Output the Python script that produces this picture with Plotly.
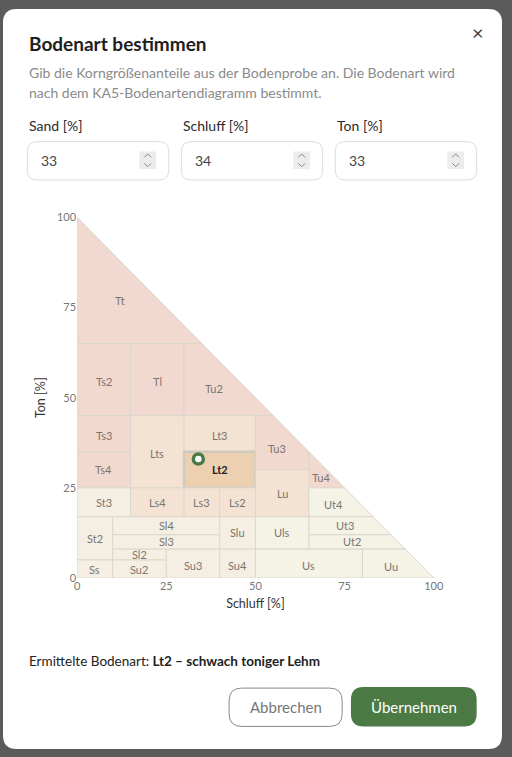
import plotly.graph_objects as go

W, H = 512, 757
# KA5 regions: name, polygon (Schluff %, Ton %), label position, group
regions = [
 ("Tt",  [(0,65),(35,65),(0,100)], (12,77), "T"),
 ("Ts2", [(0,45),(15,45),(15,65),(0,65)], (7.5,54.5), "T"),
 ("Tl",  [(15,45),(30,45),(30,65),(15,65)], (22.5,54.5), "T"),
 ("Tu2", [(30,45),(55,45),(35,65),(30,65)], (38.5,52.5), "T"),
 ("Ts3", [(0,35),(15,35),(15,45),(0,45)], (7.5,39.5), "T"),
 ("Ts4", [(0,25),(15,25),(15,35),(0,35)], (7.5,30), "T"),
 ("Lts", [(15,25),(30,25),(30,45),(15,45)], (22.5,34.5), "L"),
 ("Lt3", [(30,35),(50,35),(50,45),(30,45)], (40,39.5), "L"),
 ("Lt2", [(30,25),(50,25),(50,35),(30,35)], (40,30), "H"),
 ("Tu3", [(50,30),(65,30),(65,35),(55,45),(50,45)], (56,36), "T"),
 ("Tu4", [(65,25),(75,25),(65,35)], (68.5,28), "T"),
 ("Lu",  [(50,17),(65,17),(65,30),(50,30)], (57.5,23.5), "L"),
 ("St3", [(0,17),(15,17),(15,25),(0,25)], (7.5,21), "S"),
 ("Ls4", [(15,17),(30,17),(30,25),(15,25)], (22.5,21), "L"),
 ("Ls3", [(30,17),(40,17),(40,25),(30,25)], (35,21), "L"),
 ("Ls2", [(40,17),(50,17),(50,25),(40,25)], (45,21), "L"),
 ("Ut4", [(65,17),(83,17),(75,25),(65,25)], (72,20.5), "U"),
 ("St2", [(0,5),(10,5),(10,17),(0,17)], (5,11), "S"),
 ("Ss",  [(0,0),(10,0),(10,5),(0,5)], (5,2.5), "S"),
 ("Sl4", [(10,12),(40,12),(40,17),(10,17)], (25,14.5), "S"),
 ("Sl3", [(10,8),(40,8),(40,12),(10,12)], (25,10), "S"),
 ("Sl2", [(10,5),(25,5),(25,8),(10,8)], (17.5,6.5), "S"),
 ("Su2", [(10,0),(25,0),(25,5),(10,5)], (17.5,2.5), "S"),
 ("Su3", [(25,0),(40,0),(40,8),(25,8)], (32.5,3.5), "S"),
 ("Slu", [(40,8),(50,8),(50,17),(40,17)], (45,12.5), "S"),
 ("Su4", [(40,0),(50,0),(50,8),(40,8)], (45,3.5), "S"),
 ("Uls", [(50,8),(65,8),(65,17),(50,17)], (57.5,12.5), "U"),
 ("Ut3", [(65,12),(88,12),(83,17),(65,17)], (75,14.5), "U"),
 ("Ut2", [(65,8),(92,8),(88,12),(65,12)], (77,10), "U"),
 ("Us",  [(50,0),(80,0),(80,8),(50,8)], (65,3.5), "U"),
 ("Uu",  [(80,0),(100,0),(92,8),(80,8)], (88,3.3), "U"),
]
group_colors = {"T": "#f2d9cf", "L": "#f4e3d3", "S": "#f5efe3", "U": "#f5f2e6", "H": "#edd0b0"}
sample_schluff = [34]
sample_ton = [33]
ticks = [0, 25, 50, 75, 100]

def px(x): return x / W
def py(y): return 1 - y / H
def p(x, y): return f"{px(x):.5f},{py(y):.5f}"

def rrect(x0, y0, x1, y1, r):
    return (f"M{p(x0+r,y0)} L{p(x1-r,y0)} Q{p(x1,y0)} {p(x1,y0+r)} L{p(x1,y1-r)} "
            f"Q{p(x1,y1)} {p(x1-r,y1)} L{p(x0+r,y1)} Q{p(x0,y1)} {p(x0,y1-r)} "
            f"L{p(x0,y0+r)} Q{p(x0,y0)} {p(x0+r,y0)} Z")

fig = go.Figure()
for name, poly, (lx, ly), g in regions:
    xs = [q[0] for q in poly] + [poly[0][0]]
    ys = [q[1] for q in poly] + [poly[0][1]]
    hl = g == "H"
    fig.add_trace(go.Scatter(x=xs, y=ys, fill="toself", fillcolor=group_colors[g],
                             mode="lines", line=dict(color="#cfc9c0" if hl else "#dcd6cd", width=2.5 if hl else 1),
                             hoverinfo="skip", showlegend=False))
for name, poly, (lx, ly), g in regions:
    hl = g == "H"
    fig.add_annotation(x=lx, y=ly, text=f"<b>{name}</b>" if hl else name, showarrow=False,
                       font=dict(family="Lato", size=11, color="#222" if hl else "#7a7570"))
fig.add_trace(go.Scatter(x=sample_schluff, y=sample_ton, mode="markers",
                         marker=dict(size=10, color="white", line=dict(color="#4a7a45", width=3.5)),
                         showlegend=False, hoverinfo="skip"))

shapes = [dict(type="path", xref="paper", yref="paper", path=rrect(0, 2, 512, 755, 14),
               fillcolor="white", line=dict(width=0), layer="below")]
inputs = [("Sand [%]", 25, 170, "33"), ("Schluff [%]", 183, 328, "34"), ("Ton [%]", 341, 486, "33")]
ann = []
for lab, x0, x1, val in inputs:
    shapes.append(dict(type="path", xref="paper", yref="paper", path=rrect(x0, 137, x1, 176, 10),
                       fillcolor="white", line=dict(color="#dddddd", width=1)))
    shapes.append(dict(type="rect", xref="paper", yref="paper", x0=px(x1-30), x1=px(x1-13),
                       y0=py(165), y1=py(147), fillcolor="#ececec", line=dict(width=0)))
    cx = x1 - 21.5
    shapes.append(dict(type="path", xref="paper", yref="paper",
                       path=f"M{p(cx-3.5,153)} L{p(cx,149.5)} L{p(cx+3.5,153)}",
                       line=dict(color="#888", width=1)))
    shapes.append(dict(type="path", xref="paper", yref="paper",
                       path=f"M{p(cx-3.5,159)} L{p(cx,162.5)} L{p(cx+3.5,159)}",
                       line=dict(color="#888", width=1)))
    ann.append(dict(x=px(x0), y=py(121), text=lab, xanchor="left", font=dict(size=14, color="#2a2a2a")))
    ann.append(dict(x=px(x0+12), y=py(156), text=val, xanchor="left", font=dict(size=14, color="#444")))
shapes.append(dict(type="path", xref="paper", yref="paper", path=rrect(232, 693, 348, 732, 13),
                   fillcolor="white", line=dict(color="#8a8a8a", width=1)))
shapes.append(dict(type="path", xref="paper", yref="paper", path=rrect(357, 692, 486, 732, 13),
                   fillcolor="#4b7a44", line=dict(width=0)))
ann += [
    dict(x=px(25), y=py(37), text="<b>Bodenart bestimmen</b>", xanchor="left", font=dict(size=19, color="#1e1e1e")),
    dict(x=px(487), y=py(25), text="×", xanchor="center", font=dict(size=20, color="#444")),
    dict(x=px(25), y=py(67), text="Gib die Korngrößenanteile aus der Bodenprobe an. Die Bodenart wird", xanchor="left", font=dict(size=14, color="#8a8a8a")),
    dict(x=px(25), y=py(87), text="nach dem KA5-Bodenartendiagramm bestimmt.", xanchor="left", font=dict(size=14, color="#8a8a8a")),
    dict(x=px(25), y=py(665), text="Ermittelte Bodenart: <b>Lt2 – schwach toniger Lehm</b>", xanchor="left", font=dict(size=13.5, color="#222")),
    dict(x=px(290), y=py(712), text="Abbrechen", xanchor="center", font=dict(size=15, color="#777")),
    dict(x=px(421.5), y=py(712), text="Übernehmen", xanchor="center", font=dict(size=15, color="white")),
]
for a in ann:
    a.update(xref="paper", yref="paper", showarrow=False, yanchor="middle")
    a["font"].setdefault("family", "Lato")
    fig.add_annotation(**a)

fig.update_layout(width=W, height=H, margin=dict(l=0, r=0, t=0, b=0),
                  paper_bgcolor="#5b5b5b", plot_bgcolor="rgba(0,0,0,0)", shapes=shapes,
                  font=dict(family="Lato"),
                  xaxis=dict(domain=[px(76), px(442)], range=[0, 100], tickvals=ticks, showgrid=False,
                             zeroline=False, showline=False, tickfont=dict(size=11, color="#777"),
                             title=dict(text="Schluff [%]", font=dict(size=12.5, color="#333"), standoff=8)),
                  yaxis=dict(domain=[py(581), py(214)], range=[0, 100], tickvals=ticks, showgrid=False,
                             zeroline=False, showline=False, tickfont=dict(size=11, color="#777"),
                             title=dict(text="Ton [%]", font=dict(size=12.5, color="#333"), standoff=8)))
fig.write_html("out.html", config={"displayModeBar": False},
               post_script="document.body.style.margin='0';document.body.style.overflow='hidden';")
